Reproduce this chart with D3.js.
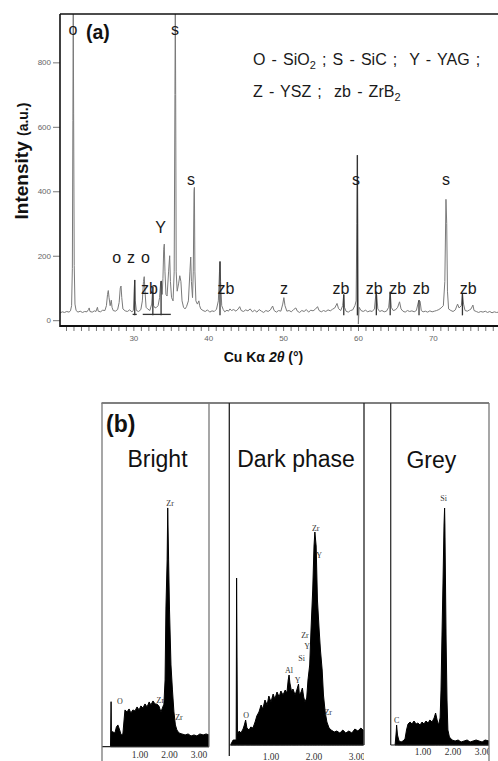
<!DOCTYPE html>
<html><head><meta charset="utf-8">
<script src="https://cdn.jsdelivr.net/npm/d3@7"></script>
<style>
html,body{margin:0;padding:0;background:#fff;}
svg{display:block;}
text{white-space:pre;}
</style></head><body>
<svg id="c" width="498" height="761"></svg>
<script>
// ---------------- DATA ----------------
// (a) XRD pattern: [2theta, intensity]
const xrdPattern = [
[20.2,22],[20.5,26],[20.8,24],[21.1,27],[21.4,25],[21.6,29],[21.75,45],[21.85,160],[21.92,620],[21.97,1000],[22.02,640],[22.1,170],[22.2,50],[22.35,30],
[22.6,25],[22.9,28],[23.2,24],[23.5,27],[23.8,26],[24.0,33],[24.1,38],[24.2,27],[24.5,25],[24.8,29],[25.0,27],[25.2,40],[25.3,28],[25.6,26],[25.9,31],
[26.2,30],[26.4,45],[26.55,80],[26.65,92],[26.75,70],[26.9,45],[27.05,62],[27.15,40],[27.3,30],[27.6,28],[27.9,33],[28.1,55],[28.25,100],[28.35,106],
[28.45,70],[28.6,35],[28.9,29],[29.2,27],[29.5,32],[29.8,26],[30.0,30],[30.1,90],[30.18,125],[30.25,60],[30.4,30],[30.7,27],[31.0,33],[31.2,60],
[31.35,120],[31.45,135],[31.55,90],[31.7,40],[31.9,35],[32.2,30],[32.45,50],[32.6,104],[32.7,45],[32.9,38],[33.1,40],[33.3,45],[33.5,70],[33.65,118],
[33.75,122],[33.85,80],[33.95,130],[34.05,220],[34.13,236],[34.22,150],[34.35,80],[34.5,75],[34.7,150],[34.85,200],[34.95,120],[35.1,70],[35.3,60],
[35.45,150],[35.55,700],[35.6,1000],[35.65,700],[35.72,150],[35.85,90],[36.05,115],[36.2,138],[36.35,120],[36.5,60],[36.7,40],[36.9,35],[37.1,42],
[37.35,60],[37.55,150],[37.66,196],[37.75,120],[37.9,70],[38.0,150],[38.1,400],[38.15,412],[38.22,150],[38.35,60],[38.55,50],[38.75,60],[38.85,45],
[39.0,35],[39.3,30],[39.6,27],[39.9,32],[40.2,25],[40.5,29],[40.8,27],[41.1,34],[41.35,60],[41.5,150],[41.57,182],[41.65,120],[41.8,45],[42.0,33],
[42.2,26],[42.5,31],[42.7,28],[42.9,35],[43.1,30],[43.4,33],[43.7,28],[44.0,35],[44.2,42],[44.4,30],[44.7,27],[45.0,32],[45.3,29],[45.6,35],[45.9,26],
[46.2,31],[46.5,25],[46.8,33],[47.1,28],[47.4,24],[47.7,30],[48.0,27],[48.3,32],[48.6,44],[48.8,30],[49.1,25],[49.4,30],[49.7,28],[49.95,50],[50.1,70],
[50.25,45],[50.5,28],[50.8,30],[51.1,26],[51.4,33],[51.7,38],[51.9,28],[52.2,24],[52.5,30],[52.8,27],[53.1,33],[53.4,25],[53.7,31],[54.0,29],[54.3,34],
[54.6,42],[54.8,30],[55.1,26],[55.4,30],[55.7,27],[56.0,32],[56.3,29],[56.6,34],[56.9,38],[57.2,52],[57.4,36],[57.7,30],[57.95,45],[58.1,80],[58.2,40],
[58.4,28],[58.7,25],[59.0,30],[59.3,32],[59.6,46],[59.75,60],[59.85,300],[59.92,512],[59.98,300],[60.05,-12],[60.15,40],[60.4,30],[60.7,27],[61.0,31],
[61.3,26],[61.6,29],[61.9,27],[62.2,35],[62.4,85],[62.5,78],[62.65,35],[62.9,27],[63.2,30],[63.5,26],[63.8,28],[64.1,40],[64.3,88],[64.45,40],[64.7,30],
[65.0,32],[65.3,40],[65.55,57],[65.75,35],[66.0,28],[66.3,25],[66.6,30],[66.9,27],[67.2,29],[67.5,26],[67.8,30],[68.05,55],[68.15,62],[68.3,58],[68.45,30],
[68.7,26],[69.0,28],[69.3,25],[69.6,29],[69.9,26],[70.2,28],[70.5,30],[70.8,33],[71.1,38],[71.4,45],[71.6,120],[71.75,375],[71.85,300],[71.95,90],
[72.1,35],[72.4,30],[72.7,27],[73.0,32],[73.3,50],[73.5,38],[73.8,45],[73.95,82],[74.1,50],[74.3,30],[74.6,28],[74.9,32],[75.1,35],[75.35,47],[75.5,30],
[75.8,27],[76.1,24],[76.4,27],[76.7,25],[77.0,28],[77.3,24],[77.6,27],[77.9,23],[78.2,26],[78.5,24],[78.8,25],[79.1,23],[79.4,26],[79.7,24]
];
// darker reflection sticks: [2theta, intensity]
const xrdDarkSticks = [[30.18,125],[32.6,104],[33.7,122],[41.57,182],[58.1,80],[59.92,512],[62.45,85],[64.3,88],[68.15,62],[73.95,82]];
// short dark horizontal marks: [from, to, intensity]
const xrdUnderlines = [[29.9,30.45,18],[31.25,35.0,18]];
const xrdYTicks = [0,200,400,600,800];
const xrdXLabels = [30,40,50,60,70];
// peak labels: [text, 2theta, intensity at baseline]
const xrdPeakLabels = [
["o",21.94,885],["s",35.56,885],["s",37.70,419],["Y",33.63,270],
["o",27.77,177],["z",29.69,177],["o",31.60,177],
["zb",32.16,81],["zb",42.37,81],["z",50.12,81],["zb",57.74,81],["s",59.75,419],
["zb",62.15,81],["zb",65.29,81],["zb",68.43,81],["s",71.77,419],["zb",74.71,81]
];
const legendLine1 = [["O - SiO",0],["2",1],[" ; S - SiC ;  Y - YAG ;",0]];
const legendLine2 = [["Z - YSZ ;  zb - ZrB",0],["2",1]];

// (b) EDS spectra: [keV, counts]
const brightSpectrum = [
[0.0,3],[0.02,180],[0.03,63],[0.08,59],[0.15,55],[0.20,79],[0.25,87],[0.31,67],[0.36,47],[0.42,51],[0.46,107],[0.49,147],
[0.56,139],[0.63,151],[0.69,135],[0.76,147],[0.83,143],[0.90,159],[0.97,147],[1.03,163],[1.10,155],[1.17,171],[1.24,159],
[1.31,179],[1.37,167],[1.44,183],[1.51,171],[1.58,170],[1.64,163],[1.71,139],[1.76,155],[1.81,170],[1.85,267],[1.88,559],
[1.92,747],[1.94,955],[1.97,747],[2.00,547],[2.05,327],[2.10,227],[2.15,139],[2.20,87],[2.25,67],[2.32,55],[2.42,51],
[2.53,47],[2.63,51],[2.73,43],[2.83,47],[2.93,43],[3.03,51],[3.14,47],[3.24,51],[3.34,47]
];
const darkSpectrum = [
[0.07,4],[0.12,20],[0.19,20],[0.20,668],[0.22,40],[0.26,56],[0.30,48],[0.35,64],[0.38,80],[0.41,100],[0.44,68],[0.49,60],
[0.53,72],[0.58,68],[0.63,92],[0.67,116],[0.72,132],[0.77,160],[0.81,144],[0.86,180],[0.91,160],[0.95,196],[1.00,172],
[1.05,204],[1.09,184],[1.14,212],[1.19,192],[1.23,216],[1.28,200],[1.33,220],[1.37,208],[1.40,260],[1.42,280],[1.44,248],
[1.48,212],[1.51,224],[1.56,200],[1.60,220],[1.64,244],[1.66,200],[1.70,212],[1.73,228],[1.76,192],[1.79,172],[1.83,188],
[1.86,260],[1.90,320],[1.93,460],[1.97,620],[2.00,796],[2.02,852],[2.05,796],[2.08,580],[2.12,460],[2.15,380],[2.19,300],
[2.22,200],[2.26,132],[2.30,92],[2.35,68],[2.40,60],[2.47,52],[2.53,56],[2.60,48],[2.67,60],[2.74,48],[2.81,56],[2.88,48],
[2.95,64],[3.02,56],[3.09,68],[3.14,60]
];
const greySpectrum = [
[0.07,0],[0.11,56],[0.12,80],[0.15,40],[0.20,16],[0.27,12],[0.33,16],[0.40,24],[0.45,60],[0.50,84],[0.57,92],[0.63,84],
[0.70,96],[0.77,84],[0.83,88],[0.90,80],[0.97,92],[1.03,84],[1.10,96],[1.17,88],[1.23,100],[1.30,92],[1.37,108],[1.42,128],
[1.47,100],[1.52,80],[1.57,108],[1.60,220],[1.63,420],[1.67,672],[1.70,880],[1.72,948],[1.73,880],[1.77,420],[1.80,180],
[1.83,60],[1.88,32],[1.97,20],[2.07,16],[2.17,20],[2.27,12],[2.37,16],[2.47,20],[2.57,12],[2.67,16],[2.77,20],[2.87,16],
[2.97,12],[3.07,20],[3.20,16]
];
const edsTickValues = [1,2,3];
// element labels: [text, keV, counts]
const brightLabels = [["Zr",2.02,963],["Zr",1.69,176],["Zr",2.32,107],["O",0.32,169]];
const darkLabels = [["Zr",2.04,858],["Y",2.12,750],["Zr",1.79,430],["Y",1.84,384],["Si",1.71,336],["Al",1.42,290],["Y",1.62,250],["O",0.42,110],["Zr",2.33,120]];
const greyLabels = [["Si",1.69,976],["C",0.12,90]];
const edsTitles = ["Bright","Dark phase","Grey"];

// ---------------- DRAW ----------------
const svg = d3.select("#c");
const SANS = "'Liberation Sans', Arial, sans-serif";
const SERIF = "'Liberation Serif', 'Times New Roman', serif";

// ===== Panel (a) =====
const aL = 60, aR = 498, aT = 14, aB = 326;
const x = d3.scaleLinear().domain([20.2, 78.7]).range([aL, aR]);
const y = d3.scaleLinear().domain([-18, 950]).range([aB, aT]);

svg.append("defs").append("clipPath").attr("id","clipA")
  .append("rect").attr("x",aL).attr("y",aT).attr("width",aR-aL).attr("height",aB-aT);

const gA = svg.append("g");
const plot = gA.append("g").attr("clip-path","url(#clipA)");

plot.append("path").datum(xrdPattern)
  .attr("fill","none").attr("stroke","#7a7a7a").attr("stroke-width",1)
  .attr("d", d3.line().x(d=>x(d[0])).y(d=>y(d[1])));

plot.selectAll("line.stick").data(xrdDarkSticks).join("line")
  .attr("x1",d=>x(d[0])).attr("x2",d=>x(d[0]))
  .attr("y1",d=>y(15)).attr("y2",d=>y(d[1]))
  .attr("stroke","#333").attr("stroke-width",1.3);

plot.selectAll("line.ul").data(xrdUnderlines).join("line")
  .attr("x1",d=>x(d[0])).attr("x2",d=>x(d[1]))
  .attr("y1",d=>y(d[2])).attr("y2",d=>y(d[2]))
  .attr("stroke","#333").attr("stroke-width",1.3);

// axes
const xAxis = d3.axisBottom(x).tickValues(d3.range(21,79)).tickSize(5)
  .tickFormat(d => xrdXLabels.includes(d) ? d : "");
const gx = gA.append("g").attr("transform",`translate(0,${aB})`).call(xAxis);
gx.select(".domain").remove();
gx.selectAll(".tick line").attr("stroke","#777");
gx.selectAll(".tick text").attr("font-family",SANS).attr("font-size",8).attr("fill","#666").attr("dy","0.9em");

const yAxis = d3.axisLeft(y).tickValues(xrdYTicks).tickSize(7).tickPadding(2);
const gy = gA.append("g").attr("transform",`translate(${aL},0)`).call(yAxis);
gy.select(".domain").remove();
gy.selectAll(".tick line").attr("stroke","#777");
gy.selectAll(".tick text").attr("font-family",SANS).attr("font-size",8).attr("fill","#666");

// frame lines
gA.append("line").attr("x1",aL).attr("x2",aR).attr("y1",aB).attr("y2",aB).attr("stroke","#111").attr("stroke-width",2);
gA.append("line").attr("x1",aL).attr("x2",aL).attr("y1",aT).attr("y2",aB+1).attr("stroke","#111").attr("stroke-width",1.6);
gA.append("line").attr("x1",aL).attr("x2",aR).attr("y1",aT).attr("y2",aT).attr("stroke","#111").attr("stroke-width",1.6);

// peak labels
gA.selectAll("text.pl").data(xrdPeakLabels).join("text")
  .attr("x",d=>x(d[1])).attr("y",d=>y(d[2]))
  .attr("text-anchor","middle").attr("font-family",SANS).attr("font-size",16).attr("fill","#1a1a1a")
  .text(d=>d[0]);

// (a)
gA.append("text").attr("x",86).attr("y",39).attr("font-family",SANS).attr("font-weight","bold")
  .attr("font-size",19.5).attr("fill","#111").text("(a)");

// legend
function legendLine(parts, ly){
  const t = gA.append("text").attr("x",253).attr("y",ly).attr("font-family",SANS)
    .attr("font-size",16).attr("fill","#1a1a1a").attr("word-spacing","1.7px");
  let shifted = false;
  parts.forEach(p=>{
    const ts = t.append("tspan").text(p[0]);
    if(p[1]){ ts.attr("font-size",11).attr("dy",4); shifted = true; }
    else if(shifted){ ts.attr("dy",-4); shifted = false; }
  });
}
legendLine(legendLine1, 65);
legendLine(legendLine2, 96.5);

// axis titles
const yt = gA.append("text").attr("transform","translate(28,161) rotate(-90)")
  .attr("text-anchor","middle").attr("font-family",SANS).attr("font-weight","bold").attr("fill","#111");
yt.append("tspan").attr("font-size",19).text("Intensity ");
yt.append("tspan").attr("font-size",14).text("(a.u.)");

const xt = gA.append("text").attr("x",263.5).attr("y",362).attr("text-anchor","middle")
  .attr("font-family",SANS).attr("font-weight","bold").attr("font-size",14).attr("fill","#111");
xt.append("tspan").text("Cu K\u03b1 ");
xt.append("tspan").attr("font-style","italic").text("2\u03b8");
xt.append("tspan").text(" (\u00b0)");

// ===== Panel (b) =====
const gB = svg.append("g");
const bTop = 403;
gB.append("line").attr("x1",101.5).attr("x2",489).attr("y1",bTop).attr("y2",bTop).attr("stroke","#555").attr("stroke-width",1.3);

const boxes = [
  {data:brightSpectrum, labels:brightLabels, title:edsTitles[0], left:102, right:209, axisY:746.7, r0:110.5, r3:199,
   leftBottom:761, rightBottom:746.7, tickY:758, titleX:157.5, titleY:466.5, lc:"#777", rc:"#777"},
  {data:darkSpectrum, labels:darkLabels, title:edsTitles[1], left:229.3, right:364, axisY:745, r0:228, r3:357,
   leftBottom:756, rightBottom:745, tickY:759.5, titleX:296, titleY:466.5, lc:"#222", rc:"#222"},
  {data:greySpectrum, labels:greyLabels, title:edsTitles[2], left:390.7, right:489, axisY:745, r0:393, r3:483,
   leftBottom:745, rightBottom:761, tickY:755, titleX:431.3, titleY:468, lc:"#333", rc:"#777"}
];

boxes.forEach((b,i)=>{
  const bx = d3.scaleLinear().domain([0,3]).range([b.r0, b.r3]);
  const by = d3.scaleLinear().domain([0,1370]).range([b.axisY, b.axisY-342.5]);
  const clipId = "clipB"+i;
  svg.select("defs").append("clipPath").attr("id",clipId)
    .append("rect").attr("x",b.left).attr("y",bTop).attr("width",b.right-b.left).attr("height",770-bTop);
  const g = gB.append("g");
  const gc = g.append("g").attr("clip-path",`url(#${clipId})`);
  gc.append("path").datum(b.data)
    .attr("fill","#000").attr("stroke","#000").attr("stroke-width",1).attr("stroke-linejoin","miter")
    .attr("d", d3.area().x(d=>bx(d[0])).y0(b.axisY).y1(d=>by(d[1])));
  g.append("line").attr("x1",b.left).attr("x2",b.right).attr("y1",b.axisY).attr("y2",b.axisY).attr("stroke","#222").attr("stroke-width",1.2);
  gc.selectAll("text.tk").data(edsTickValues).join("text")
    .attr("x",d=>bx(d)).attr("y",b.tickY).attr("text-anchor","middle")
    .attr("font-family",SERIF).attr("font-size",9.5).attr("fill","#333")
    .text(d=>d3.format(".2f")(d));
  gc.selectAll("text.el").data(b.labels).join("text")
    .attr("x",d=>bx(d[1])).attr("y",d=>by(d[2])).attr("text-anchor","middle")
    .attr("font-family",SERIF).attr("font-size",8).attr("fill","#333")
    .text(d=>d[0]);
  g.append("line").attr("x1",b.left).attr("x2",b.left).attr("y1",bTop).attr("y2",b.leftBottom).attr("stroke",b.lc).attr("stroke-width",1.3);
  g.append("line").attr("x1",b.right).attr("x2",b.right).attr("y1",bTop).attr("y2",b.rightBottom).attr("stroke",b.rc).attr("stroke-width",1.3);
  g.append("text").attr("x",b.titleX).attr("y",b.titleY).attr("text-anchor","middle")
    .attr("font-family",SANS).attr("font-size",23).attr("fill","#111").text(b.title);
});

gB.append("text").attr("x",106).attr("y",432).attr("font-family",SANS).attr("font-weight","bold")
  .attr("font-size",23).attr("fill","#111").text("(b)");
</script>
</body></html>
